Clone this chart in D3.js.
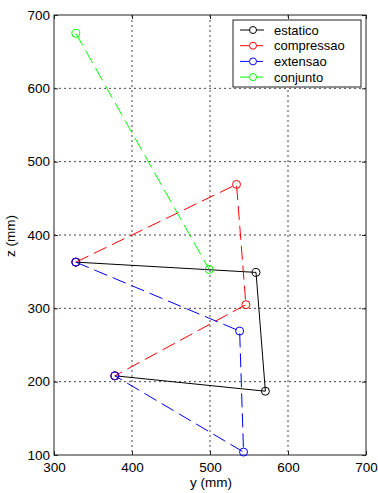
<!DOCTYPE html>
<html>
<head>
<meta charset="utf-8">
<script src="https://cdn.jsdelivr.net/npm/d3@7"></script>
<style>
  body { margin: 0; background: #fff; }
  svg text { font-family: Arial, "Liberation Sans", sans-serif; }
</style>
</head>
<body>
<script>
// Data
var seriesNames = ["estatico", "compressao", "extensao", "conjunto"];
var seriesColors = ["#000000", "#ff0000", "#0000ff", "#00ff00"];
var estaticoY = [328, 559, 571, 378];
var estaticoZ = [363, 349, 187, 208];
var compressaoY = [328, 534, 546, 378];
var compressaoZ = [363, 469, 305, 208];
var extensaoY = [328, 538, 543, 378];
var extensaoZ = [363, 269, 104, 208];
var conjuntoY = [328, 499];
var conjuntoZ = [675, 353];
var xTicks = [300, 400, 500, 600, 700];
var yTicks = [100, 200, 300, 400, 500, 600, 700];

var series = [
  {name: seriesNames[0], color: seriesColors[0], dash: null, y: estaticoY, z: estaticoZ},
  {name: seriesNames[1], color: seriesColors[1], dash: "14,6", y: compressaoY, z: compressaoZ},
  {name: seriesNames[2], color: seriesColors[2], dash: "14,6", y: extensaoY, z: extensaoZ},
  {name: seriesNames[3], color: seriesColors[3], dash: "14,6", y: conjuntoY, z: conjuntoZ}
];

//Define Margin
var margin = {left: 54, right: 12, top: 15, bottom: 38},
    width = 378 - margin.left - margin.right,
    height = 493 - margin.top - margin.bottom;

var svg = d3.select("body")
  .append("svg")
  .attr("width", 378)
  .attr("height", 493)
  .append("g")
  .attr("transform", "translate(" + margin.left + "," + margin.top + ")");

//Define Scales
var xScale = d3.scaleLinear().domain([300, 700]).range([0, width]);
var yScale = d3.scaleLinear().domain([100, 700]).range([height, 0]);

//Grid
svg.append("g")
  .attr("class", "grid")
  .selectAll("line.gx")
  .data(xTicks.slice(1, -1))
  .enter().append("line")
  .attr("x1", function(d) { return xScale(d); })
  .attr("x2", function(d) { return xScale(d); })
  .attr("y1", 0).attr("y2", height)
  .attr("stroke", "#444").attr("stroke-dasharray", "2,3");

svg.select(".grid")
  .selectAll("line.gy")
  .data(yTicks.slice(1, -1))
  .enter().append("line")
  .attr("y1", function(d) { return yScale(d); })
  .attr("y2", function(d) { return yScale(d); })
  .attr("x1", 0).attr("x2", width)
  .attr("stroke", "#444").attr("stroke-dasharray", "2,3");

//Axes (ticks pointing inward)
var xAxis = d3.axisBottom(xScale).tickValues(xTicks).tickSize(-4).tickPadding(7);
var yAxis = d3.axisLeft(yScale).tickValues(yTicks).tickSize(-4).tickPadding(4);

var gX = svg.append("g")
  .attr("transform", "translate(0," + height + ")")
  .call(xAxis);
var gY = svg.append("g").call(yAxis);

svg.append("g").call(d3.axisTop(xScale).tickValues(xTicks).tickSize(-4).tickFormat(""));
svg.append("g").attr("transform", "translate(" + width + ",0)")
  .call(d3.axisRight(yScale).tickValues(yTicks).tickSize(-4).tickFormat(""));

svg.selectAll(".domain").remove();
svg.selectAll(".tick line").attr("stroke", "#222");
svg.selectAll(".tick text").attr("fill", "#000").attr("font-size", "13.5px");

svg.append("rect")
  .attr("width", width).attr("height", height)
  .attr("fill", "none").attr("stroke", "#222");

//Lines and markers
var line = d3.line()
  .x(function(d) { return xScale(d[0]); })
  .y(function(d) { return yScale(d[1]); });

series.forEach(function(s) {
  var pts = s.y.map(function(v, i) { return [v, s.z[i]]; });
  svg.append("path")
    .datum(pts)
    .attr("d", line)
    .attr("fill", "none")
    .attr("stroke", s.color)
    .attr("stroke-width", 1)
    .attr("stroke-dasharray", s.dash);
  svg.selectAll(null)
    .data(pts)
    .enter().append("circle")
    .attr("cx", function(d) { return xScale(d[0]); })
    .attr("cy", function(d) { return yScale(d[1]); })
    .attr("r", 4)
    .attr("fill", "none")
    .attr("stroke", s.color);
});

//Axis labels
svg.append("text")
  .attr("x", width / 2 + 1)
  .attr("y", height + 32)
  .style("text-anchor", "middle")
  .attr("font-size", "13.5px")
  .text("y (mm)");

svg.append("text")
  .attr("transform", "rotate(-90)")
  .attr("x", -(236 - margin.top))
  .attr("y", -39)
  .style("text-anchor", "middle")
  .attr("font-size", "13.5px")
  .text("z (mm)");

//Legend
var legend = svg.append("g").attr("transform", "translate(" + (233 - margin.left) + "," + (20 - margin.top) + ")");
legend.append("rect")
  .attr("width", 128).attr("height", 67)
  .attr("fill", "#fff").attr("stroke", "#222");

var items = legend.selectAll("g.item")
  .data(series)
  .enter().append("g")
  .attr("transform", function(d, i) { return "translate(0," + (10 + i * 15.7) + ")"; });

items.append("line")
  .attr("x1", 7).attr("x2", 31)
  .attr("stroke", function(d) { return d.color; })
  .attr("stroke-dasharray", function(d) { return d.dash ? "9,5" : null; });
items.append("circle")
  .attr("cx", 20).attr("r", 3.5)
  .attr("fill", "#fff")
  .attr("stroke", function(d) { return d.color; });
items.append("text")
  .attr("x", 41).attr("y", 4.5)
  .attr("font-size", "13px")
  .text(function(d) { return d.name; });
</script>
</body>
</html>
